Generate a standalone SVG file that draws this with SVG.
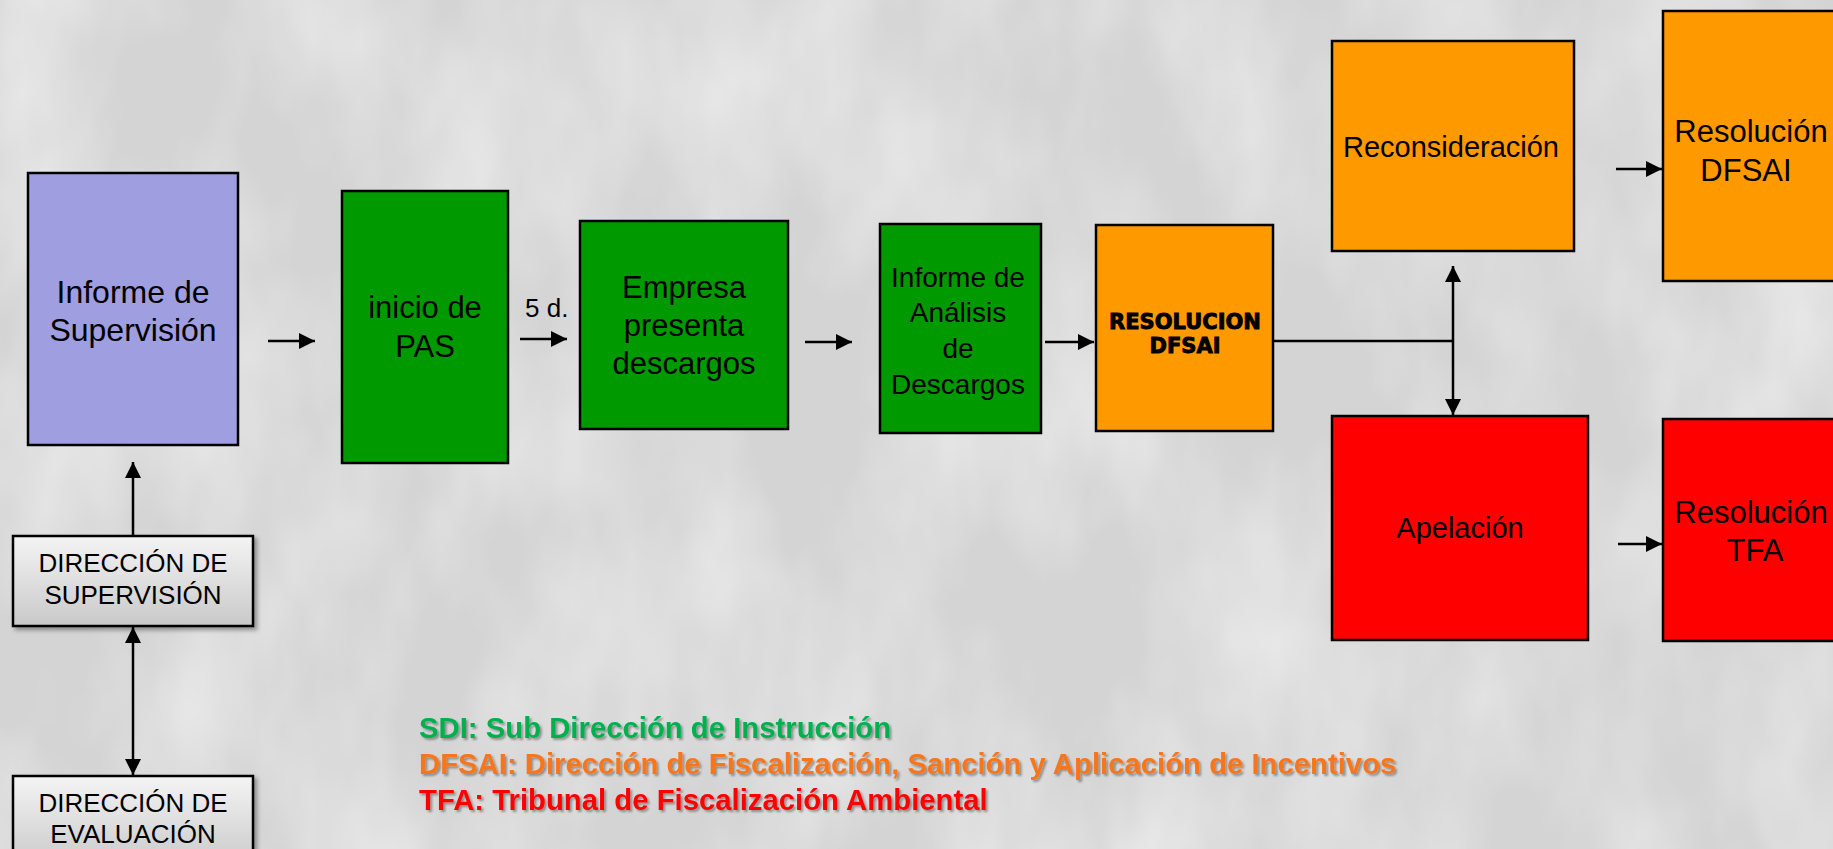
<svg xmlns="http://www.w3.org/2000/svg" width="1833" height="849" viewBox="0 0 1833 849">
<defs>
<style>
.box{stroke:#000;stroke-width:2.5}
.lav{fill:#9E9EE0}
.grn{fill:#009900}
.org{fill:#FF9900}
.red{fill:#FF0000}
.dir{fill:url(#dirGrad);stroke:#000;stroke-width:2.5;filter:url(#shadow)}
.t{font-family:"Liberation Sans",Arial,sans-serif;fill:#000;text-anchor:middle}
.t32{font-size:32px}
.t31{font-size:31px}
.t29{font-size:29px}
.t28{font-size:28px}
.t26{font-size:26px}
.blk{font-family:"Arial Black","DejaVu Sans",sans-serif;font-weight:bold;font-size:21px;fill:#000;stroke:#000;stroke-width:0.9;text-anchor:middle}
.leg{font-family:"Liberation Sans",Arial,sans-serif;font-weight:bold;font-size:29.3px;filter:url(#tshadow)}
.conn{stroke:#000;stroke-width:2.5;fill:none}
</style>
<linearGradient id="dirGrad" x1="0" y1="0" x2="0" y2="1">
<stop offset="0" stop-color="#F4F4F4"/>
<stop offset="1" stop-color="#C9C9C9"/>
</linearGradient>
<filter id="shadow" x="-10%" y="-10%" width="130%" height="140%">
<feDropShadow dx="3" dy="3" stdDeviation="2" flood-color="#000" flood-opacity="0.35"/>
</filter>
<filter id="tshadow" x="-5%" y="-20%" width="110%" height="150%">
<feDropShadow dx="2" dy="2" stdDeviation="1" flood-color="#000" flood-opacity="0.35"/>
</filter>
<filter id="tex" x="0" y="0" width="100%" height="100%">
<feTurbulence type="fractalNoise" baseFrequency="0.008 0.004" numOctaves="4" seed="11"/>
<feColorMatrix type="matrix" values="0 0 0 0 1  0 0 0 0 1  0 0 0 0 1  0.9 0 0 0 -0.3"/>
</filter>
<marker id="ah" viewBox="0 0 10 10" refX="10" refY="5" markerUnits="userSpaceOnUse" markerWidth="16" markerHeight="16" orient="auto-start-reverse">
<path d="M0,0 L10,5 L0,10 Z" fill="#000"/>
</marker>
</defs>

<g id="background">
<rect x="0" y="0" width="1833" height="849" fill="#D4D4D4"/>
<rect x="0" y="0" width="1833" height="849" filter="url(#tex)"/>
</g>

<g id="connectors">
<line class="conn" x1="268" y1="341" x2="315" y2="341" marker-end="url(#ah)"/>
<line class="conn" x1="520" y1="339" x2="567" y2="339" marker-end="url(#ah)"/>
<line class="conn" x1="805" y1="342" x2="852" y2="342" marker-end="url(#ah)"/>
<line class="conn" x1="1045" y1="342" x2="1094" y2="342" marker-end="url(#ah)"/>
<polyline class="conn" points="1273,341 1453,341"/>
<line class="conn" x1="1453" y1="341" x2="1453" y2="266" marker-end="url(#ah)"/>
<line class="conn" x1="1453" y1="341" x2="1453" y2="415" marker-end="url(#ah)"/>
<line class="conn" x1="1616" y1="169" x2="1662" y2="169" marker-end="url(#ah)"/>
<line class="conn" x1="1618" y1="544" x2="1662" y2="544" marker-end="url(#ah)"/>
<line class="conn" x1="133" y1="536" x2="133" y2="462" marker-end="url(#ah)"/>
<line class="conn" x1="133" y1="627" x2="133" y2="775" marker-start="url(#ah)" marker-end="url(#ah)"/>
</g>

<g id="informe-supervision">
<rect class="box lav" x="28" y="173" width="210" height="272"/>
<text class="t t32" x="133" y="303">Informe de</text>
<text class="t t32" x="133" y="341">Supervisión</text>
</g>

<g id="inicio-pas">
<rect class="box grn" x="342" y="191" width="166" height="272"/>
<text class="t t31" x="425" y="318">inicio de</text>
<text class="t t31" x="425" y="357">PAS</text>
</g>

<g id="label-5d">
<text class="t t26" x="525" y="317" style="text-anchor:start">5 d.</text>
</g>

<g id="empresa-descargos">
<rect class="box grn" x="580" y="221" width="208" height="208"/>
<text class="t t31" x="684" y="298">Empresa</text>
<text class="t t31" x="684" y="336">presenta</text>
<text class="t t31" x="684" y="374">descargos</text>
</g>

<g id="informe-analisis">
<rect class="box grn" x="880" y="224" width="161" height="209"/>
<text class="t t28" x="958" y="287">Informe de</text>
<text class="t t28" x="958" y="322">Análisis</text>
<text class="t t28" x="958" y="358">de</text>
<text class="t t28" x="958" y="394">Descargos</text>
</g>

<g id="resolucion-dfsai-1">
<rect class="box org" x="1096" y="225" width="177" height="206"/>
<text class="blk" x="1185" y="329">RESOLUCION</text>
<text class="blk" x="1185" y="353">DFSAI</text>
</g>

<g id="reconsideracion">
<rect class="box org" x="1332" y="41" width="242" height="210"/>
<text class="t t29" x="1451" y="157">Reconsideración</text>
</g>

<g id="resolucion-dfsai-2">
<rect class="box org" x="1663" y="11" width="200" height="270"/>
<text class="t t31" x="1751" y="142">Resolución</text>
<text class="t t31" x="1746" y="181">DFSAI</text>
</g>

<g id="apelacion">
<rect class="box red" x="1332" y="416" width="256" height="224"/>
<text class="t t29" x="1460" y="538">Apelación</text>
</g>

<g id="resolucion-tfa">
<rect class="box red" x="1663" y="419" width="200" height="222"/>
<text class="t t31" x="1751" y="523">Resolución</text>
<text class="t t31" x="1755" y="561">TFA</text>
</g>

<g id="direccion-supervision">
<rect class="dir" x="13" y="536" width="240" height="90"/>
<text class="t t26" x="133" y="572">DIRECCIÓN DE</text>
<text class="t t26" x="133" y="604">SUPERVISIÓN</text>
</g>

<g id="direccion-evaluacion">
<rect class="dir" x="13" y="776" width="240" height="92"/>
<text class="t t26" x="133" y="812">DIRECCIÓN DE</text>
<text class="t t26" x="133" y="843">EVALUACIÓN</text>
</g>

<g id="legend">
<text class="leg" x="419" y="738" fill="#00B050">SDI: Sub Dirección de Instrucción</text>
<text class="leg" x="419" y="774" fill="#F7761C">DFSAI: Dirección de Fiscalización, Sanción y Aplicación de Incentivos</text>
<text class="leg" x="419" y="810" fill="#FF0000">TFA: Tribunal de Fiscalización Ambiental</text>
</g>
</svg>
